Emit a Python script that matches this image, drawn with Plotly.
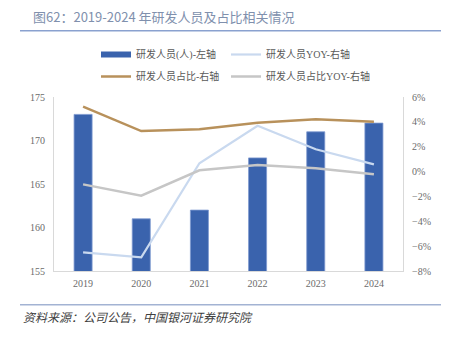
import plotly.graph_objects as go

years = ["2019", "2020", "2021", "2022", "2023", "2024"]
staff = [173.0, 161.0, 162.0, 168.0, 171.0, 172.0]
staff_yoy = [-0.065, -0.069, 0.0067, 0.0369, 0.0179, 0.0058]
staff_ratio = [0.0522, 0.0326, 0.034, 0.0393, 0.042, 0.040]
ratio_yoy = [-0.0103, -0.0194, 0.001, 0.0053, 0.0026, -0.0022]

W, H = 452, 339
L, R, T, B = 54, 49, 97, 68
pw, ph = W - L - R, H - T - B


def px(x):
    return (x - L) / pw


def py(y):
    return (H - B - y) / ph


BLUE = "#3a63ad"
LBLUE = "#c9d9ef"
BROWN = "#b8915b"
GRAY = "#c6c6c6"
TXT = "#595959"
TICK = "#6b6b6b"
FONT = "Liberation Serif, Noto Sans CJK SC, serif"

fig = go.Figure()
fig.add_trace(go.Bar(x=years, y=staff, marker=dict(color=BLUE, line=dict(width=0.8, color="#7d98cf")),
                     width=0.31, showlegend=False, name="研发人员(人)-左轴"))
# legend proxy for bar series
fig.add_trace(go.Scatter(x=[None], y=[None], mode="lines", line=dict(color=BLUE, width=6),
                         name="研发人员(人)-左轴", legend="legend", legendgroup="a"))
fig.add_trace(go.Scatter(x=years, y=staff_yoy, mode="lines", line=dict(color=LBLUE, width=2.2),
                         name="研发人员YOY-右轴", yaxis="y2", legend="legend2", legendgroup="b"))
fig.add_trace(go.Scatter(x=years, y=staff_ratio, mode="lines", line=dict(color=BROWN, width=2.5),
                         name="研发人员占比-右轴", yaxis="y2", legend="legend", legendgroup="c"))
fig.add_trace(go.Scatter(x=years, y=ratio_yoy, mode="lines", line=dict(color=GRAY, width=2.5),
                         name="研发人员占比YOY-右轴", yaxis="y2", legend="legend2", legendgroup="d"))

leg_common = dict(orientation="v", xanchor="left", yanchor="top",
                  font=dict(size=10, color=TXT), bgcolor="rgba(0,0,0,0)",
                  itemwidth=30, tracegroupgap=3)

fig.update_layout(
    width=W, height=H,
    margin=dict(l=L, r=R, t=T, b=B),
    paper_bgcolor="white", plot_bgcolor="white",
    font=dict(family=FONT, size=10, color=TXT),
    bargap=0.69,
    xaxis=dict(showgrid=False, showline=True, linecolor="#d9d9d9", linewidth=1,
               ticks="", tickfont=dict(size=10, color=TICK), zeroline=False,
               ticklabelstandoff=3),
    yaxis=dict(range=[155, 175], dtick=5, showgrid=False, showline=True,
               linecolor="#d9d9d9", linewidth=1, ticks="", zeroline=False,
               tickfont=dict(size=10, color=TICK), ticklabelstandoff=6),
    yaxis2=dict(range=[-0.08, 0.06], dtick=0.02, tickformat=".0%", overlaying="y",
                side="right", showgrid=False, showline=True, linecolor="#d9d9d9",
                linewidth=1, ticks="", zeroline=False,
                tickfont=dict(size=10, color=TICK), ticklabelstandoff=6),
    legend=dict(x=px(96), y=py(40), **leg_common),
    legend2=dict(x=px(226), y=py(40), **leg_common),
    showlegend=True,
)

fig.add_annotation(text="图62：2019-2024 年研发人员及占比相关情况", xref="paper", yref="paper",
                   x=px(31), y=py(17), xanchor="left", yanchor="middle", showarrow=False,
                   font=dict(size=13, color="#8090ad", family="Noto Sans CJK SC, sans-serif"))
fig.add_annotation(text="<i>资料来源：公司公告，中国银河证券研究院</i>", xref="paper", yref="paper",
                   x=px(21), y=py(316), xanchor="left", yanchor="middle", showarrow=False,
                   font=dict(size=12, color="#404040", family="Noto Sans CJK SC, sans-serif"))

for yy, c in [(30.7, "#8aa1cf"), (304.7, "#a3b3d3")]:
    fig.add_shape(type="line", xref="paper", yref="paper", x0=px(20), x1=px(441),
                  y0=py(yy), y1=py(yy), line=dict(color=c, width=1.6))

fig.write_html("out.html")
